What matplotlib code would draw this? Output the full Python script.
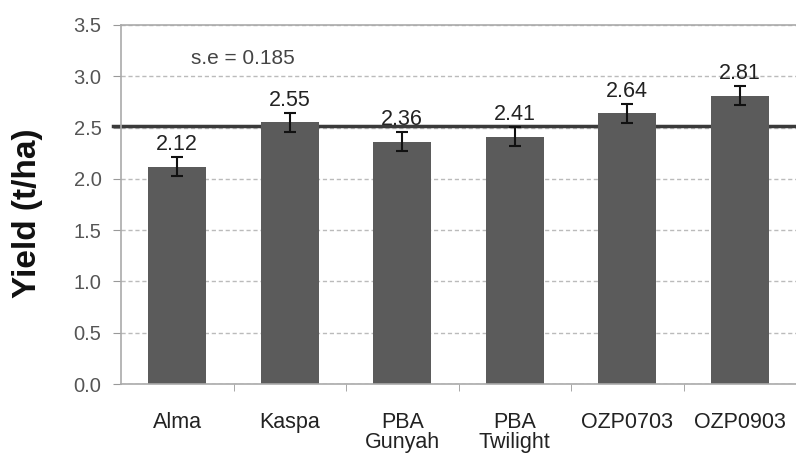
import matplotlib
matplotlib.use("Agg")
import matplotlib.pyplot as plt
import numpy as np

categories = ["Alma", "Kaspa", "PBA\nGunyah", "PBA\nTwilight", "OZP0703", "OZP0903"]
yields = [2.12, 2.55, 2.36, 2.41, 2.64, 2.81]
err = [0.0925] * 6
mean_line = 2.52
se_text = "s.e = 0.185"
yticks = [0.0, 0.5, 1.0, 1.5, 2.0, 2.5, 3.0, 3.5]

plt.rcParams['font.family'] = ['Liberation Sans', 'DejaVu Sans']

fig = plt.figure(figsize=(7.96, 4.55), dpi=100)
ax = fig.add_axes([121/796, 1 - 384/455, 675/796, (384-25)/455])

x = np.arange(len(categories))
ax.axhline(mean_line, color='#3a3a3a', lw=2.5, zorder=1, xmin=-0.012, clip_on=False)
ax.bar(x, yields, width=0.515, color='#5b5b5b', zorder=2)
ax.errorbar(x, yields, yerr=err, fmt='none', ecolor='#111111', elinewidth=1.5,
            capsize=4, capthick=1.5, zorder=3)
for xi, v, e in zip(x, yields, err):
    ax.text(xi, v + e + 0.02, f"{v:.2f}", ha='center', va='bottom', fontsize=15.5, color='#222222', zorder=4)

ax.text(0.58, 3.17, se_text, ha='center', va='center', fontsize=15, color='#444444')

ax.set_xlim(-0.5, len(categories) - 0.5)
ax.set_ylim(0, 3.5)
ax.set_yticks(yticks)
ax.set_yticklabels([f"{t:.1f}" for t in yticks], fontsize=14.5, color='#555555')
ax.yaxis.grid(True, linestyle=(0, (3, 2)), color='#bbbbbb', lw=1)
ax.set_axisbelow(True)
ax.tick_params(axis='y', length=6, color='#999999', direction='out', pad=8)

ax.set_xticks(x)
ax.set_xticklabels(categories, fontsize=15.5, color='#222222', linespacing=0.95)
ax.tick_params(axis='x', length=0, pad=20)
ax.set_xticks(np.arange(len(categories)) + 0.5, minor=True)
ax.tick_params(axis='x', which='minor', length=5, color='#999999', direction='out')

for s in ['left', 'bottom', 'top']:
    ax.spines[s].set_color('#aaaaaa')
    ax.spines[s].set_linewidth(1.2)
ax.spines['right'].set_visible(False)

fig.text(28/796, 1 - 213/455, "Yield (t/ha)", rotation=90, ha='center', va='center',
         fontsize=24, fontweight='bold', color='#111111')

fig.savefig("out.png", dpi=100)
